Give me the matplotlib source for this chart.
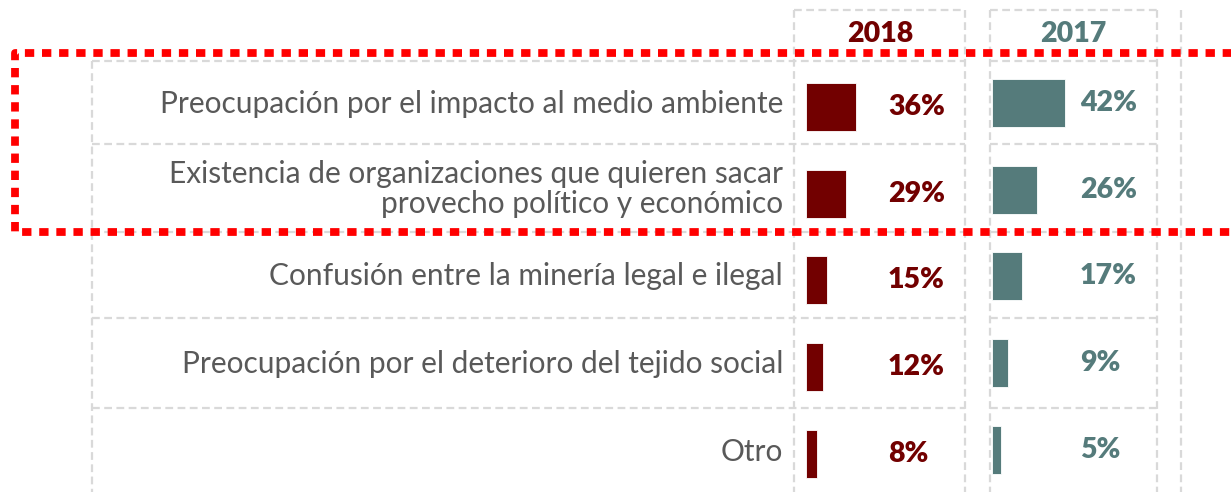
import matplotlib
matplotlib.use("Agg")
import matplotlib.pyplot as plt

categories = [
    "Preocupación por el impacto al medio ambiente",
    "Existencia de organizaciones que quieren sacar\nprovecho político y económico",
    "Confusión entre la minería legal e ilegal",
    "Preocupación por el deterioro del tejido social",
    "Otro",
]
years = ["2018", "2017"]
vals_2018 = [36, 29, 15, 12, 8]
vals_2017 = [42, 26, 17, 9, 5]

RED = "#720000"
TEAL = "#557b7b"
GRID = "#d9d9d9"
LABEL = "#595959"
FONT = "Lato"

W, H = 1231, 492
fig = plt.figure(figsize=(W / 100, H / 100), dpi=100)

# background axes in pixel units for the dashed table and the red frame
bg = fig.add_axes([0, 0, 1, 1])
bg.set_xlim(0, W)
bg.set_ylim(H, 0)
bg.axis("off")

ROW_EDGES = [61, 144, 232, 318, 408]
dash = dict(color=GRID, lw=1.6, linestyle=(0, (3.5, 2)), zorder=1)
bg.plot([92, 92], [61, H], **dash)
for y in ROW_EDGES:
    bg.plot([92, 965], [y, y], **dash)
    bg.plot([990, 1157], [y, y], **dash)
for x in (794, 965, 990, 1157, 1181):
    bg.plot([x, x], [10, H], **dash)
bg.plot([794, 965], [10, 10], **dash)
bg.plot([990, 1157], [10, 10], **dash)

# highlight frame
bg.plot([1240, 15, 15, 1240], [53, 53, 232, 232], color="#ff0000", lw=5.6,
        linestyle=(0, (1.2, 1.0)), dash_capstyle="butt", zorder=5)

# headers
bg.text(880, 34, years[0], ha="center", va="center", fontsize=20.5,
        fontweight="heavy", color=RED, family=FONT)
bg.text(1073, 34, years[1], ha="center", va="center", fontsize=20.5,
        fontweight="heavy", color=TEAL, family=FONT)

# category labels, centered in each row
row_mid = [(a + b) / 2 for a, b in zip(ROW_EDGES, ROW_EDGES[1:] + [494])]
for y, cat in zip(row_mid, categories):
    bg.text(783, y + 1, cat, ha="right", va="center", fontsize=21.5,
            color=LABEL, family=FONT, multialignment="right", linespacing=1.1)


def column(left_px, px_per_pct, top_px, vals, color, label_px):
    # axes of 5 rows, 86.75 px each
    pitch = 86.75
    w_px = 160
    ax = fig.add_axes([left_px / W, 1 - (top_px + 5 * pitch) / H,
                       w_px / W, 5 * pitch / H])
    ax.set_xlim(0, w_px / px_per_pct)
    ax.set_ylim(4.5, -0.5)
    ax.axis("off")
    ax.patch.set_alpha(0)
    pos = list(range(len(vals)))
    ax.barh(pos, vals, height=0.553, color=color, edgecolor="white", lw=0.6)
    lx = (label_px - left_px) / px_per_pct
    for p, v in zip(pos, vals):
        ax.text(lx, p, f"{v}%", ha="left", va="center", fontsize=20.5,
                fontweight="heavy", color=color, family=FONT)
    return ax


column(806, 1.39, 107 - 43.4, vals_2018, RED, 888)
column(992, 1.74, 103 - 43.4, vals_2017, TEAL, 1080)

fig.savefig("out.png", dpi=100)
